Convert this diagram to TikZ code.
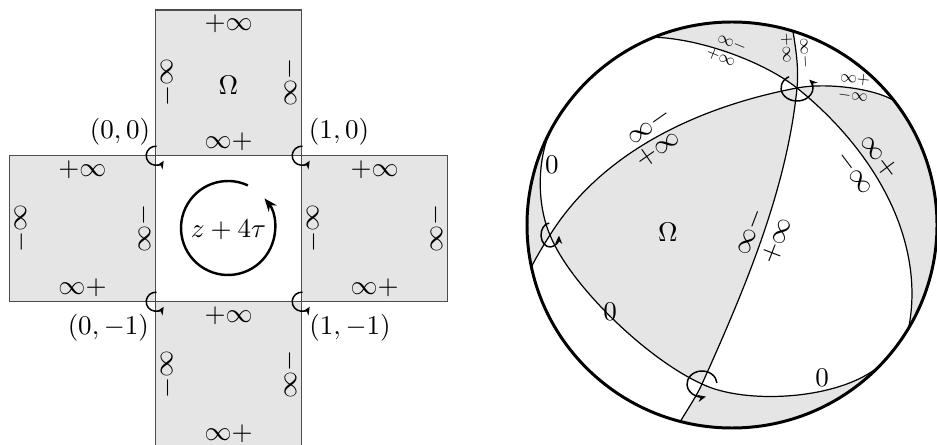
\documentclass[tikz,border=0pt]{standalone}
\usetikzlibrary{arrows.meta,calc}
\begin{document}
\begin{tikzpicture}[x=0.37pt,y=-0.37pt,
  sq/.style={draw=black!70,line width=0.5pt},
  lab/.style={inner sep=0pt},
  small/.style={inner sep=0pt,scale=0.62},
  gc/.style={line width=0.45pt},
  shade/.style={fill=black!10},
  turn/.style={line width=0.55pt,-{Stealth[length=3pt,width=2.6pt]}},
]
\useasboundingbox (0,0) rectangle (937,445);

% ---------- left: the cross of squares ----------
\foreach \n/\cx/\cy/\f in {T/228.7/82.85/black!10, L/82.5/228.7/black!10, R/374.7/228.7/black!10, B/228.7/374.7/black!10, C/228.7/228.7/white}{
  \draw[sq,fill=\f] (\cx-73,\cy-73) rectangle (\cx+73,\cy+73);
}
\foreach \n/\cx/\cy in {T/228.7/82.85, L/82.5/228.7, R/374.7/228.7, B/228.7/374.7}{
  \node[lab] (\n top) at (\cx,\cy-59) {$+\infty$};
  \node[lab] (\n bot) at (\cx,\cy+59) {$\infty+$};
  \node[lab,rotate=-90] (\n left) at (\cx-61,\cy) {$\infty-$};
  \node[lab,rotate=90] (\n right) at (\cx+61,\cy) {$\infty-$};
}
\node[lab] (omegaL) at (228.5,85) {$\Omega$};
\coordinate (zc) at (228,228);
\node[lab] (ztau) at (228.5,230) {$z+4\tau$};
\draw[line width=0.9pt,-{Stealth[length=4.8pt,width=3.8pt]}] ($(zc)+(-65:47)$) arc[start angle=-65,end angle=-399,radius=47];

\coordinate (k00) at (155.7,155.7);
\coordinate (k10) at (301.7,155.7);
\coordinate (k01) at (155.7,301.7);
\coordinate (k11) at (301.7,301.7);
\foreach \k in {k00,k10,k01,k11}{
  \draw[turn] ($(\k)+(-85:9.5)$) arc[start angle=-85,end angle=-328,radius=9.5];
}
\node[lab] (l00) at (120,131.5) {$(0,0)$};
\node[lab] (l10) at (339,131.5) {$(1,0)$};
\node[lab] (l01) at (108.3,327.5) {$(0,-1)$};
\node[lab] (l11) at (350,327.5) {$(1,-1)$};

% ---------- right: the sphere ----------
\coordinate (O) at (732,225);
\coordinate (P1) at (797,88);
\coordinate (P2) at (550,235);
\coordinate (P3) at (702,384);
\coordinate (eA1) at ($(O)+(-112.3:205 and 203)$);
\coordinate (eA2) at ($(O)+(30.5:205 and 203)$);
\coordinate (eB1) at ($(O)+(168.1:205 and 203)$);
\coordinate (eB2) at ($(O)+(-37.8:205 and 203)$);
\coordinate (eC1) at ($(O)+(207.3:205 and 203)$);
\coordinate (eC2) at ($(O)+(43.8:205 and 203)$);
\coordinate (eD1) at ($(O)+(-72.7:205 and 203)$);
\coordinate (eD2) at ($(O)+(104.6:205 and 203)$);

% shaded regions
\fill[shade] (P2) .. controls (605,147) and (707,105) .. (P1)
  .. controls (787,188) and (747,284) .. (P3)
  .. controls (647,359.3) and (570,285) .. (P2) -- cycle;
\fill[shade] (eA1) .. controls (702,39) and (764,62) .. (P1)
  .. controls (798.9,69) and (796,50) .. (eD1)
  arc[start angle=-72.7,end angle=-112.3,x radius=205,y radius=203] -- cycle;
\fill[shade] (P1) .. controls (880,155) and (925,245) .. (eA2)
  arc[start angle=30.5,end angle=-37.8,x radius=205,y radius=203]
  .. controls (874,88.6) and (827,82.3) .. (P1) -- cycle;
\fill[shade] (eC1) .. controls (537,162) and (537,205) .. (P2)
  .. controls (543,246) and (536.4,257) .. (eB1)
  arc[start angle=168.1,end angle=207.3,x radius=205,y radius=203] -- cycle;
\fill[shade] (P3) .. controls (745,405) and (840,400) .. (eC2)
  arc[start angle=43.8,end angle=104.6,x radius=205,y radius=203]
  .. controls (687.5,409.4) and (696.6,396) .. (P3) -- cycle;

% great circles
\draw[gc] (eA1) .. controls (702,39) and (764,62) .. (P1)
  .. controls (880,155) and (925,245) .. (eA2);
\draw[gc] (eB1) .. controls (536.4,257) and (543,246) .. (P2)
  .. controls (605,147) and (707,105) .. (P1)
  .. controls (827,82.3) and (874,88.6) .. (eB2);
\draw[gc] (eC1) .. controls (537,162) and (537,205) .. (P2)
  .. controls (570,285) and (647,359.3) .. (P3)
  .. controls (745,405) and (840,400) .. (eC2);
\draw[gc] (eD1) .. controls (796,50) and (798.9,69) .. (P1)
  .. controls (787,188) and (747,284) .. (P3)
  .. controls (696.6,396) and (687.5,409.4) .. (eD2);

\draw[line width=1.1pt] (O) ellipse[x radius=205,y radius=203];

% turning arcs
\draw[turn] ($(P1)+(-120:16 and 13)$) arc[start angle=-120,end angle=-400,x radius=16,y radius=13];
\draw[turn] ($(P2)+(-95:9 and 12)$) arc[start angle=-95,end angle=-357,x radius=9,y radius=12];
\draw[turn] ($(P3)+(-5:15 and 13)$) arc[start angle=-5,end angle=-285,x radius=15,y radius=13];

% labels
\node[lab] (omegaR) at (668,232) {$\Omega$};
\node[lab] (z1) at (552,165) {$0$};
\node[lab] (z2) at (610,312) {$0$};
\node[lab] (z3) at (822,378) {$0$};
\node[small,rotate=-22] (a1) at (732,43) {$\infty-$};
\node[small,rotate=-22] (a2) at (721,57) {$+\infty$};
\node[small,rotate=-87] (d1) at (787,48) {$+\infty$};
\node[small,rotate=-87] (d2) at (805,53) {$\infty-$};
\node[small,rotate=-6] (b1) at (855,79) {$\infty+$};
\node[small,rotate=-8] (b2) at (853,96) {$-\infty$};
\node[lab,rotate=35] (b3) at (649,126) {$\infty-$};
\node[lab,rotate=35] (b4) at (658,149) {$+\infty$};
\node[lab,rotate=-53] (a3) at (879,157) {$\infty+$};
\node[lab,rotate=-53] (a4) at (855,173) {$-\infty$};
\node[lab,rotate=69] (d3) at (750,232) {$\infty-$};
\node[lab,rotate=69] (d4) at (777,241) {$+\infty$};
\end{tikzpicture}
\end{document}
